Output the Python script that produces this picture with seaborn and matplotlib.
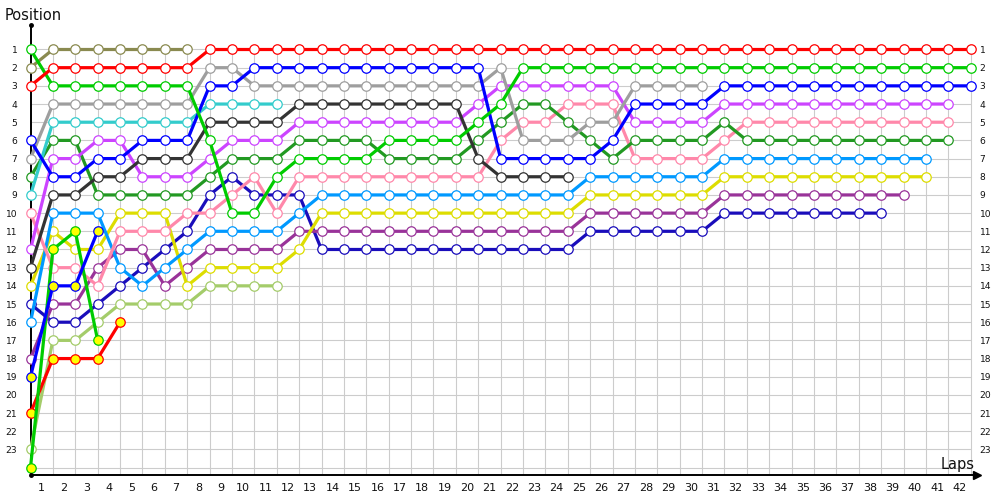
import matplotlib
matplotlib.use("Agg")
import matplotlib.pyplot as plt
import seaborn as sns

# ---------------- data ----------------
lap_labels = list(range(1, 43))
position_labels = list(range(1, 24))
n_positions = 24

red = [3, 2, 2, 2, 2, 2, 2, 2, 1, 1, 1, 1, 1, 1, 1, 1, 1, 1, 1, 1, 1, 1, 1, 1, 1, 1,
       1, 1, 1, 1, 1, 1, 1, 1, 1, 1, 1, 1, 1, 1, 1, 1, 1]
olive = [2, 1, 1, 1, 1, 1, 1, 1]
green = [1, 3, 3, 3, 3, 3, 3, 3, 6, 10, 10, 8, 7, 7, 7, 7, 6, 6, 6, 6, 5, 4, 2, 2, 2, 2,
         2, 2, 2, 2, 2, 2, 2, 2, 2, 2, 2, 2, 2, 2, 2, 2, 2]
gray = [7, 4, 4, 4, 4, 4, 4, 4, 2, 2, 3, 3, 3, 3, 3, 3, 3, 3, 3, 3, 3, 2, 6, 6, 6, 5,
        5, 3, 3, 3, 3]
cyan = [9, 5, 5, 5, 5, 5, 5, 5, 4, 4, 4, 4]
blue = [6, 8, 8, 7, 7, 6, 6, 6, 3, 3, 2, 2, 2, 2, 2, 2, 2, 2, 2, 2, 2, 7, 7, 7, 7, 7,
        6, 4, 4, 4, 4, 3, 3, 3, 3, 3, 3, 3, 3, 3, 3, 3, 3]
darkgray = [13, 9, 9, 8, 8, 7, 7, 7, 5, 5, 5, 5, 4, 4, 4, 4, 4, 4, 4, 4, 7, 8, 8, 8, 8]
magenta = [12, 7, 7, 6, 6, 8, 8, 8, 7, 6, 6, 6, 5, 5, 5, 5, 5, 5, 5, 5, 4, 3, 3, 3, 3,
           3, 3, 5, 5, 5, 5, 4, 4, 4, 4, 4, 4, 4, 4, 4, 4, 4]
darkgreen = [8, 6, 6, 9, 9, 9, 9, 9, 8, 7, 7, 7, 6, 6, 6, 6, 7, 7, 7, 7, 6, 5, 4, 4, 5,
             6, 7, 6, 6, 6, 6, 5, 6, 6, 6, 6, 6, 6, 6, 6, 6, 6]
pink = [10, 13, 13, 14, 11, 11, 11, 10, 10, 9, 8, 10, 8, 8, 8, 8, 8, 8, 8, 8, 8, 6, 5,
        5, 4, 4, 4, 7, 7, 7, 7, 6, 5, 5, 5, 5, 5, 5, 5, 5, 5, 5]
lightblue = [16, 10, 10, 10, 13, 14, 13, 12, 11, 11, 11, 11, 10, 9, 9, 9, 9, 9, 9, 9, 9,
             9, 9, 9, 9, 8, 8, 8, 8, 8, 8, 7, 7, 7, 7, 7, 7, 7, 7, 7, 7]
yellow = [14, 11, 12, 12, 10, 10, 10, 14, 13, 13, 13, 13, 12, 10, 10, 10, 10, 10, 10, 10,
          10, 10, 10, 10, 10, 9, 9, 9, 9, 9, 9, 8, 8, 8, 8, 8, 8, 8, 8, 8, 8]
purple = [18, 15, 15, 13, 12, 12, 14, 13, 12, 12, 12, 12, 11, 11, 11, 11, 11, 11, 11, 11,
          11, 11, 11, 11, 11, 10, 10, 10, 10, 10, 10, 9, 9, 9, 9, 9, 9, 9, 9, 9]
navy = [15, 16, 16, 15, 14, 13, 12, 11, 9, 8, 9, 9, 9, 12, 12, 12, 12, 12, 12, 12, 12,
        12, 12, 12, 12, 11, 11, 11, 11, 11, 11, 10, 10, 10, 10, 10, 10, 10, 10]
lightgreen = [23, 17, 17, 16, 15, 15, 15, 15, 14, 14, 14, 14]
red_b = [21, 18, 18, 18, 16]
green_b = [24, 12, 11, 17]
blue_b = [19, 14, 14, 11]

series = [
    ("lightgreen", lightgreen, "#a4cc6a", "white"),
    ("navy", navy, "#1a0dbb", "white"),
    ("purple", purple, "#993399", "white"),
    ("yellow", yellow, "#dddd00", "white"),
    ("lightblue", lightblue, "#0099ff", "white"),
    ("pink", pink, "#ff88aa", "white"),
    ("darkgreen", darkgreen, "#229922", "white"),
    ("magenta", magenta, "#cc44ff", "white"),
    ("darkgray", darkgray, "#333333", "white"),
    ("cyan", cyan, "#33cccc", "white"),
    ("gray", gray, "#9e9e9e", "white"),
    ("olive", olive, "#8a8a50", "white"),
    ("blue", blue, "#0000ff", "white"),
    ("green", green, "#00cc00", "white"),
    ("red", red, "#ff0000", "white"),
    ("red_b", red_b, "#ff0000", "#ffff00"),
    ("green_b", green_b, "#00cc00", "#ffff00"),
    ("blue_b", blue_b, "#0000ff", "#ffff00"),
]

# ---------------- geometry (pixel layout of the original) ----------------
W, H = 1000, 500
x0_px, dx_px = 30.5, 22.386          # lap 0 position and lap spacing
y1_px, dy_px = 49.5, 18.18           # position 1 and spacing
left_px, right_px, top_px, bottom_px = 30.5, 977.0, 25.0, 475.0

xmin = (left_px - x0_px) / dx_px
xmax = (right_px - x0_px) / dx_px
ymin = 1 + (top_px - y1_px) / dy_px
ymax = 1 + (bottom_px - y1_px) / dy_px

fig = plt.figure(figsize=(W / 100, H / 100), dpi=100)
fig.patch.set_facecolor("white")
ax = fig.add_axes([left_px / W, 1 - bottom_px / H,
                   (right_px - left_px) / W, (bottom_px - top_px) / H])
ax.set_facecolor("white")
ax.set_xlim(xmin, xmax)
ax.set_ylim(ymax, ymin)

# grid
n_laps = len(lap_labels)
ax.vlines(range(1, n_laps + 1), 0.78, ymax, colors="#cccccc", linewidth=0.8, zorder=0)
ax.hlines(range(1, n_positions + 1), 0, n_laps, colors="#cccccc", linewidth=0.8, zorder=0)

# lines
for i, (name, vals, col, face) in enumerate(series):
    laps = list(range(len(vals)))
    sns.lineplot(x=laps, y=vals, ax=ax, color=col, linewidth=2.3, marker="o",
                 markersize=6.8, estimator=None, sort=False, zorder=3 + i)
    ln = ax.lines[-1]
    ln.set_markerfacecolor(face)
    ln.set_markeredgecolor(col)
    ln.set_markeredgewidth(0.9)
    ln.set_clip_on(False)

ax.set_xlabel("")
ax.set_ylabel("")

# spines
for s in ["top", "right"]:
    ax.spines[s].set_visible(False)
for s in ["left", "bottom"]:
    ax.spines[s].set_color("black")
    ax.spines[s].set_linewidth(1.4)

# ticks
ax.set_xticks([k - 0.5 for k in lap_labels])
ax.set_xticklabels([str(k) for k in lap_labels])
ax.set_yticks(position_labels)
ax.set_yticklabels([str(p) for p in position_labels])
ax.tick_params(axis="x", length=0, pad=5.5, labelsize=8, labelcolor="#111111")
ax.tick_params(axis="y", length=0, pad=9.5, labelsize=6.6, labelcolor="#111111",
               labelright=True, right=False)
for t in ax.yaxis.get_major_ticks():
    t.label2.set_horizontalalignment("left")
ax.yaxis.set_tick_params(which="major", pad=9.5)
for lab in ax.get_yticklabels():
    pass
# right-side labels closer to the grid
import matplotlib.transforms as mtrans
for t in ax.yaxis.get_major_ticks():
    t.label2.set_transform(t.label2.get_transform() + mtrans.ScaledTranslation(-7.5 / 72, 0, fig.dpi_scale_trans))

# axis decorations: arrow and dots
ax.plot([xmax], [ymax], marker=">", markersize=6, color="black", clip_on=False, zorder=20)
ax.plot([0], [ymin], marker="o", markersize=2.5, color="black", clip_on=False, zorder=20)
ax.plot([0], [ymax], marker="o", markersize=2.5, color="black", clip_on=False, zorder=20)

fig.text(5 / W, 1 - 20 / H, "Position", fontsize=10.5, ha="left", va="baseline", color="#111111")
fig.text(975 / W, 1 - 469.5 / H, "Laps", fontsize=10.5, ha="right", va="baseline", color="#111111")

fig.savefig("out.png", dpi=100, facecolor="white")
